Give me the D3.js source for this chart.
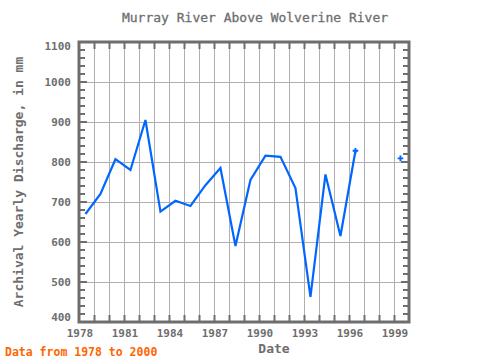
<!DOCTYPE html>
<html><head><meta charset="utf-8">
<script src="https://cdn.jsdelivr.net/npm/d3@7"></script>
<style>body{margin:0;background:#fff}svg{display:block}</style>
</head><body>
<script>
const years = [1978,1979,1980,1981,1982,1983,1984,1985,1986,1987,1988,1989,1990,1991,1992,1993,1994,1995,1996,1997,1998,1999];
const discharge = [670,720,807,780,905,676,703,690,742,785,590,755,816,813,735,463,769,615,828,null,null,809];
const xTickLabels = [1978,1981,1984,1987,1990,1993,1996,1999];
const yTickLabels = [400,500,600,700,800,900,1000,1100];
const titleText = "Murray River Above Wolverine River";
const xTitle = "Date";
const yTitle = "Archival Yearly Discharge, in mm";
const footText = "Data from 1978 to 2000";
const yearOffset = 0.43;

const W = 480, H = 360;
const L = 79, R = 409, T = 42, B = 322;
const grey = "#6e6e6e";
const mono = "'DejaVu Sans Mono', 'Liberation Mono', monospace";

const svg = d3.select("body").append("svg").attr("width", W).attr("height", H);
const x = d3.scaleLinear().domain([1978, 2000]).range([L, R]);
const y = d3.scaleLinear().domain([400, 1100]).range([B, T]);

// gridlines
const allYears = d3.range(1979, 2000);
svg.append("g").selectAll("line").data(allYears).join("line")
  .attr("x1", d => x(d) + 0.5).attr("x2", d => x(d) + 0.5)
  .attr("y1", T).attr("y2", B).attr("stroke", "#b0b0b0").attr("stroke-width", 1);
svg.append("g").selectAll("line").data(yTickLabels.slice(1, -1)).join("line")
  .attr("x1", L).attr("x2", R)
  .attr("y1", d => Math.round(y(d)) + 0.5).attr("y2", d => Math.round(y(d)) + 0.5)
  .attr("stroke", "#b0b0b0").attr("stroke-width", 1);

// minor ticks
const yMinor = d3.range(420, 1100, 20);
const tg = svg.append("g").attr("stroke", grey).attr("stroke-width", 2);
tg.selectAll(".yl").data(yMinor).join("line")
  .attr("x1", L).attr("x2", d => L + (d % 100 === 0 ? 8 : 6))
  .attr("y1", d => Math.round(y(d))).attr("y2", d => Math.round(y(d)));
tg.selectAll(".yr").data(yMinor).join("line")
  .attr("x1", R).attr("x2", d => R - (d % 100 === 0 ? 8 : 6))
  .attr("y1", d => Math.round(y(d))).attr("y2", d => Math.round(y(d)));
tg.selectAll(".xt").data(allYears).join("line")
  .attr("x1", d => x(d) + 0.5).attr("x2", d => x(d) + 0.5)
  .attr("y1", T).attr("y2", T + 7);
tg.selectAll(".xb").data(allYears).join("line")
  .attr("x1", d => x(d) + 0.5).attr("x2", d => x(d) + 0.5)
  .attr("y1", B).attr("y2", B - 7);

// frame
svg.append("rect").attr("x", L).attr("y", T).attr("width", R - L).attr("height", B - T)
  .attr("fill", "none").attr("stroke", grey).attr("stroke-width", 3);

// y labels
svg.append("g").selectAll("text").data(yTickLabels).join("text")
  .attr("x", 71)
  .attr("y", d => d === 1100 ? y(d) + 8 : d === 400 ? y(d) - 1 : y(d) + 4)
  .attr("text-anchor", "end").attr("font-family", mono).attr("font-weight", "bold")
  .attr("font-size", 11).attr("fill", grey).text(d => d);

// x labels
svg.append("g").selectAll("text").data(xTickLabels).join("text")
  .attr("x", d => x(d) + 1).attr("y", 337)
  .attr("text-anchor", "middle").attr("font-family", mono).attr("font-weight", "bold")
  .attr("font-size", 11).attr("fill", grey).text(d => d);

// titles
svg.append("text").attr("x", 255).attr("y", 22).attr("text-anchor", "middle")
  .attr("font-family", mono).attr("font-size", 13).attr("fill", grey)
  .attr("stroke", grey).attr("stroke-width", 0.3).text(titleText);
svg.append("text").attr("x", 274).attr("y", 353).attr("text-anchor", "middle")
  .attr("font-family", mono).attr("font-weight", "bold").attr("font-size", 13).attr("fill", grey).text(xTitle);
svg.append("text").attr("transform", "translate(23,182) rotate(-90)").attr("text-anchor", "middle")
  .attr("font-family", mono).attr("font-weight", "bold").attr("font-size", 13).attr("fill", grey).text(yTitle);
svg.append("text").attr("x", 5).attr("y", 356)
  .attr("font-family", mono).attr("font-weight", "bold").attr("font-size", 11.5).attr("fill", "#ff6600").text(footText);

// data
const data = years.map((yr, i) => ({yr, v: discharge[i], i}));
const line = d3.line().defined(d => d.v != null)
  .x(d => x(d.yr + yearOffset)).y(d => y(d.v));
svg.append("path").datum(data).attr("d", line)
  .attr("fill", "none").attr("stroke", "#0066ff").attr("stroke-width", 2.2);
const isolated = data.filter(d => d.v != null && (
  (d.i > 0 && discharge[d.i - 1] == null) || (d.i < discharge.length - 1 && discharge[d.i + 1] == null)));
const cross = d3.symbol().type(d3.symbolCross).size(18);
svg.append("g").selectAll("path").data(isolated).join("path")
  .attr("transform", d => `translate(${x(d.yr + yearOffset)},${y(d.v)})`)
  .attr("d", cross).attr("fill", "#0066ff");
</script>
</body></html>
